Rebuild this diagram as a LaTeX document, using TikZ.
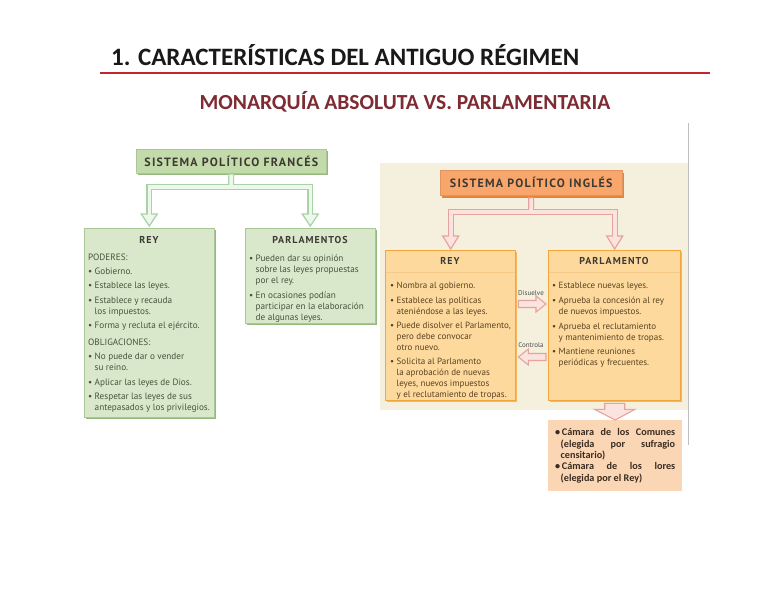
\documentclass[tikz,border=0pt]{standalone}
\usepackage{fontspec}
\usetikzlibrary{calc,shadows}
\newfontfamily\carl{Carlito}
\newfontfamily\dsans{PT Sans}
\newfontfamily\hsans[LetterSpace=10]{PT Sans}
\definecolor{gfill}{HTML}{D9E8CB}
\definecolor{gtitle}{HTML}{C3DBAA}
\definecolor{gshadow}{HTML}{93B97F}
\definecolor{gborder}{HTML}{A8C794}
\definecolor{gtext}{HTML}{46533A}
\definecolor{garrow}{HTML}{A9D2A9}
\definecolor{garrowin}{HTML}{EEF7EC}
\definecolor{beige}{HTML}{F5EFDE}
\definecolor{otitle}{HTML}{F9A66C}
\definecolor{oshadow}{HTML}{E7843A}
\definecolor{ofill}{HTML}{FDD99E}
\definecolor{oborder}{HTML}{F2A63C}
\definecolor{otext}{HTML}{5A421E}
\definecolor{parrow}{HTML}{E8A29E}
\definecolor{parrowin}{HTML}{FBE4E0}
\definecolor{camfill}{HTML}{FBD6B4}
\definecolor{camtext}{HTML}{3A2C22}
\definecolor{titlered}{HTML}{C0272D}
\definecolor{subred}{HTML}{7E2B33}
\definecolor{htext}{HTML}{3C3A33}
\newcommand\bu{\makebox[6.5pt][l]{\textbullet}}
\newcommand\ind{\hspace*{6.5pt}}
\begin{document}
\begin{tikzpicture}[x=1pt,y=-1pt,
  gtitlebox/.style={anchor=north west, fill=gtitle, draw=gborder, line width=0.6pt, inner sep=0pt,
    drop shadow={shadow xshift=1.5pt, shadow yshift=-2pt, fill=gshadow, opacity=1},
    font=\hsans\bfseries\fontsize{12}{13}\selectfont, text=htext},
  gbox/.style={anchor=north west, fill=gfill, draw=gborder, line width=0.6pt, inner sep=0pt,
    drop shadow={shadow xshift=1.5pt, shadow yshift=-2pt, fill=gshadow, opacity=1}},
  otitlebox/.style={anchor=north west, fill=otitle, draw=otitle!90!black, line width=0.4pt, inner sep=0pt,
    drop shadow={shadow xshift=1.5pt, shadow yshift=-2.5pt, fill=oshadow, opacity=1},
    font=\hsans\bfseries\fontsize{12}{13}\selectfont, text=htext},
  obox/.style={anchor=north west, fill=ofill, draw=oborder, line width=1.4pt, inner sep=0pt,
    drop shadow={shadow xshift=1pt, shadow yshift=-1.5pt, fill=oborder!70!ofill, opacity=1}},
  ghead/.style={font=\hsans\bfseries\fontsize{10}{11}\selectfont, text=htext, inner sep=0pt},
  gtxt/.style={anchor=north west, align=left, inner sep=0pt, text=gtext, font=\dsans\fontsize{9.2}{11}\selectfont},
  otxt/.style={anchor=north west, align=left, inner sep=0pt, text=otext, font=\dsans\fontsize{9}{11}\selectfont},
  lbl/.style={inner sep=0pt, text=black!70, font=\dsans\fontsize{7}{8}\selectfont},
  gout/.style={draw=garrow, line width=6pt},
  gin/.style={draw=garrowin, line width=3.6pt},
  ghd/.style={fill=garrowin, draw=garrow, line width=1.2pt, line join=miter},
  pout/.style={draw=parrow, line width=6pt},
  pin/.style={draw=parrowin, line width=3.6pt},
  phd/.style={fill=parrowin, draw=parrow, line width=1.2pt, line join=miter},
  blk/.style={fill=parrowin, draw=parrow, line width=1.1pt, line join=miter}
]
\useasboundingbox (0,0) rectangle (768,594);
\fill[white] (0,0) rectangle (768,594);

% titles
\node[anchor=base west, inner sep=0pt, font=\carl\bfseries\fontsize{25}{30}\selectfont, text=black!90] (title) at (111,66) {1. CARACTERÍSTICAS DEL ANTIGUO RÉGIMEN};
\draw[titlered, line width=2.4pt] (100,73) -- (710,73);
\node[anchor=base, inner sep=0pt, font=\carl\bfseries\fontsize{21.5}{25}\selectfont, text=subred] (sub) at (405,109) {MONARQUÍA ABSOLUTA VS. PARLAMENTARIA};

% background of English side
\fill[beige] (380,163) rectangle (688,410);
\draw[black!25, line width=1pt] (688,123) -- (688,445);

% ---------------- French side
\node[gtitlebox, minimum width=190, minimum height=24] (fr) at (136,149) {SISTEMA POLÍTICO FRANCÉS};
\node[gbox, minimum width=130, minimum height=189] (frey) at (84,228) {};
\node[gbox, minimum width=130, minimum height=95] (frparl) at (245,228) {};

\coordinate (fj) at (231,187);
\draw[gout] (fr.south) -- (fj);
\draw[gout] (fj) -| ($(frey.north)+(0,-14)$);
\draw[gout] (fj) -| ($(frparl.north)+(0,-14)$);
\filldraw[ghd] ($(frey.north)+(-8,-14)$) -- ($(frey.north)+(8,-14)$) -- ($(frey.north)+(0,-2)$) -- cycle;
\filldraw[ghd] ($(frparl.north)+(-8,-14)$) -- ($(frparl.north)+(8,-14)$) -- ($(frparl.north)+(0,-2)$) -- cycle;
\draw[gin] ($(fr.south)+(0,1)$) -- (fj);
\draw[gin] (fj) -| ($(frey.north)+(0,-12.5)$);
\draw[gin] (fj) -| ($(frparl.north)+(0,-12.5)$);
\fill[gtitle] ($(fr.south west)+(0.3,-2)$) rectangle ($(fr.south east)+(-0.3,-0.3)$);
\draw[gborder, line width=0.6pt] (fr.south west) -- (fr.south east);

\node[ghead] (freyh) at (149,240) {REY};
\node[ghead] (frparlh) at (310,240) {PARLAMENTOS};

\node[gtxt] (freyt) at (88,254) {PODERES:\\[2.5pt]
\bu Gobierno.\\[3.5pt]
\bu Establece las leyes.\\[3.5pt]
\bu Establece y recauda\\ \ind los impuestos.\\[3.5pt]
\bu Forma y recluta el ejército.\\[6pt]
OBLIGACIONES:\\[3pt]
\bu No puede dar o vender\\ \ind su reino.\\[3.5pt]
\bu Aplicar las leyes de Dios.\\[3.5pt]
\bu Respetar las leyes de sus\\ \ind antepasados y los privilegios.};

\node[gtxt] (frparlt) at (249,255) {\bu Pueden dar su opinión\\ \ind sobre las leyes propuestas\\ \ind por el rey.\\[4pt]
\bu En ocasiones podían\\ \ind participar en la elaboración\\ \ind de algunas leyes.};

% ---------------- English side
\node[otitlebox, minimum width=182, minimum height=25] (en) at (440,170) {SISTEMA POLÍTICO INGLÉS};
\node[obox, minimum width=130, minimum height=150] (orey) at (385,250) {};
\node[obox, minimum width=132, minimum height=150] (oparl) at (548,250) {};

\coordinate (ej) at (531,212);
\draw[pout] ($(en.south)+(0,2)$) -- (ej);
\draw[pout] (ej) -| ($(orey.north)+(0,-14)$);
\draw[pout] (ej) -| ($(oparl.north)+(0,-14)$);
\filldraw[phd] ($(orey.north)+(-8,-14)$) -- ($(orey.north)+(8,-14)$) -- ($(orey.north)+(0,-1)$) -- cycle;
\filldraw[phd] ($(oparl.north)+(-8,-14)$) -- ($(oparl.north)+(8,-14)$) -- ($(oparl.north)+(0,-1)$) -- cycle;
\draw[pin] ($(en.south)+(0,3)$) -- (ej);
\draw[pin] (ej) -| ($(orey.north)+(0,-12.5)$);
\draw[pin] (ej) -| ($(oparl.north)+(0,-12.5)$);

\draw[oborder!60, line width=0.5pt] ($(orey.north west)+(1,22)$) -- ($(orey.north east)+(-1,22)$);
\draw[oborder!60, line width=0.5pt] ($(oparl.north west)+(1,22)$) -- ($(oparl.north east)+(-1,22)$);
\node[ghead] (oreyh) at (450,261) {REY};
\node[ghead] (oparlh) at (614,261) {PARLAMENTO};

\node[otxt] (oreyt) at (390,281.5) {\bu Nombra al gobierno.\\[4.5pt]
\bu Establece las políticas\\ \ind ateniéndose a las leyes.\\[3pt]
\bu Puede disolver el Parlamento,\\ \ind pero debe convocar\\ \ind otro nuevo.\\[2.5pt]
\bu Solicita al Parlamento\\ \ind la aprobación de nuevas\\ \ind leyes, nuevos impuestos\\ \ind y el reclutamiento de tropas.};

\node[otxt] (oparlt) at (552,281.5) {\bu Establece nuevas leyes.\\[4pt]
\bu Aprueba la concesión al rey\\ \ind de nuevos impuestos.\\[4pt]
\bu Aprueba el reclutamiento\\ \ind y mantenimiento de tropas.\\[3pt]
\bu Mantiene reuniones\\ \ind periódicas y frecuentes.};

% Disuelve / Controla
\coordinate (ds) at ($(orey.north east)+(2,54)$);
\coordinate (de) at ($(oparl.north west)+(-2,54)$);
\filldraw[blk] ($(ds)+(0,-3.5)$) -- ($(de)+(-10,-3.5)$) -- ($(de)+(-10,-8)$) -- (de) -- ($(de)+(-10,8)$) -- ($(de)+(-10,3.5)$) -- ($(ds)+(0,3.5)$) -- cycle;
\node[lbl] (dis) at (531,293) {Disuelve};

\coordinate (cs) at ($(oparl.north west)+(-2,107)$);
\coordinate (ce) at ($(orey.north east)+(2,107)$);
\filldraw[blk] ($(cs)+(0,-3.5)$) -- ($(ce)+(10,-3.5)$) -- ($(ce)+(10,-8)$) -- (ce) -- ($(ce)+(10,8)$) -- ($(ce)+(10,3.5)$) -- ($(cs)+(0,3.5)$) -- cycle;
\node[lbl] (con) at (531,345) {Controla};

% Cámaras
\node[anchor=north west, fill=camfill, minimum height=71, text width=120, inner xsep=7, inner ysep=3, align=justify,
  text=camtext, font=\carl\bfseries\fontsize{10.2}{11.4}\selectfont] (cam) at (548,420)
 {\hangindent=5.5pt\hangafter=1 •\,Cámara de los Comunes\linebreak (elegida por sufragio\linebreak censitario)\par
  \hangindent=5.5pt\hangafter=1 •\,Cámara de los lores\linebreak (elegida por el Rey)\par};

\filldraw[blk] ($(oparl.south)+(-10,2)$) -- ($(oparl.south)+(10,2)$) -- ($(oparl.south)+(10,8)$) -- ($(oparl.south)+(20,8)$) -- (cam.north) -- ($(oparl.south)+(-20,8)$) -- ($(oparl.south)+(-10,8)$) -- cycle;
\end{tikzpicture}
\end{document}
